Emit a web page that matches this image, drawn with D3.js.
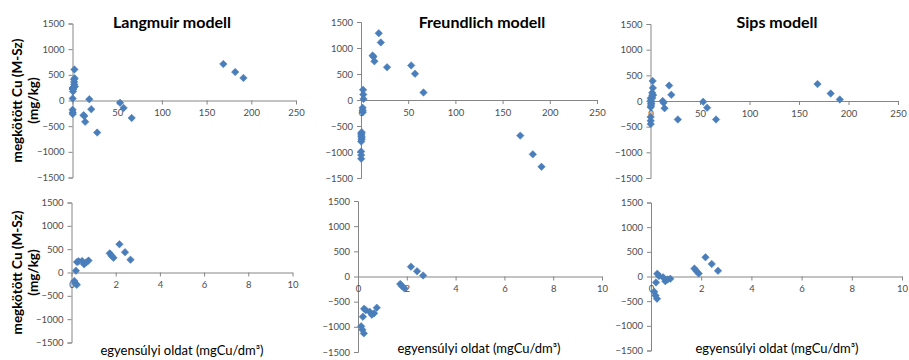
<!DOCTYPE html>
<html>
  <head>
    <meta charset="utf-8">
    <script src="https://d3js.org/d3.v7.min.js"></script>
    <title>Langmuir / Freundlich / Sips</title>
    <style>
      body { margin: 0px; background: #fff; }
      .tick text { font-family: Lato, 'Liberation Sans', sans-serif; font-size: 9.5px; fill: #4d4d4d; }
      .domain, .tick line { stroke: #868686; }
      .panel-title { font-family: Lato, sans-serif; font-weight: bold; font-size: 16px; fill: #000; }
      .y-title { font-family: Lato, sans-serif; font-weight: bold; font-size: 13.5px; fill: #000; }
      .x-title { font-family: Lato, sans-serif; font-size: 13px; fill: #000; }
    </style>
  </head>
  <body>
    <svg width="909" height="360"></svg>
    <script>
      // equilibrium concentration (mgCu/dm3), shared by all three models
      const xHigh = [12.3, 13.2, 14.2, 18.8, 21.0, 27.6, 53.2, 57.2, 66.2, 168.7, 182.0, 191.2];
      const xLow = [0.13, 0.18, 0.24, 0.2, 0.25, 0.32, 0.48, 0.57, 0.66, 0.77, 1.73, 1.81, 1.9, 2.17, 2.42, 2.67];

      // bound Cu deviation (mg/kg)
      const langmuirLow = [-180, -235, -265, 40, 225, 240, 245, 175, 215, 255, 410, 360, 315, 605, 435, 275];
      const langmuirHigh = [-285, -300, -415, 25, -170, -625, -45, -145, -340, 710, 555, 440];
      const freundlichLow = [-990, -1060, -1130, -800, -640, -670, -700, -760, -730, -620, -150, -195, -235, 195, 105, 20];
      const freundlichHigh = [855, 830, 745, 1285, 1108, 630, 665, 505, 145, -685, -1045, -1285];
      const sipsLow = [-310, -385, -450, -120, 55, 10, -15, -95, -60, -45, 160, 110, 60, 390, 255, 115];
      const sipsHigh = [0, -35, -140, 300, 120, -360, -15, -130, -360, 330, 145, 30];

      const titles = ['Langmuir modell', 'Freundlich modell', 'Sips modell'];
      const yTicks = [-1500, -1000, -500, 0, 500, 1000, 1500];
      const xTicksWide = [0, 50, 100, 150, 200, 250];
      const xTicksNarrow = [0, 2, 4, 6, 8, 10];
      const yLabel = ['megkötött Cu (M-Sz)', '(mg/kg)'];
      const xLabel = 'egyensúlyi oldat (mgCu/dm³)';

      const zip = (xs, ys) => xs.map((x, i) => ({ x: x, y: ys[i] }));

      const panels = [
        { x: [72.5, 296], y: [177.5, 23.5], xMax: 250, ticks: xTicksWide, title: titles[0], tx: 172,
          data: zip(xLow, langmuirLow).concat(zip(xHigh, langmuirHigh)) },
        { x: [361, 597], y: [178, 22], xMax: 250, ticks: xTicksWide, title: titles[1], tx: 482,
          data: zip(xLow, freundlichLow).concat(zip(xHigh, freundlichHigh)) },
        { x: [650.5, 898], y: [178, 24], xMax: 250, ticks: xTicksWide, title: titles[2], tx: 777,
          data: zip(xLow, sipsLow).concat(zip(xHigh, sipsHigh)) },
        { x: [71.5, 292.5], y: [342.5, 202.5], xMax: 10, ticks: xTicksNarrow, xt: 182,
          data: zip(xLow, langmuirLow) },
        { x: [358, 602], y: [352, 201], xMax: 10, ticks: xTicksNarrow, xt: 479,
          data: zip(xLow, freundlichLow) },
        { x: [651, 902], y: [350.5, 202.5], xMax: 10, ticks: xTicksNarrow, xt: 777,
          data: zip(xLow, sipsLow) }
      ];

      const svg = d3.select('svg');
      const diamond = d3.symbol().type(d3.symbolSquare).size(28);
      const fmt = d3.format('d');

      panels.forEach((p, i) => {
        const xScale = d3.scaleLinear().domain([0, p.xMax]).range(p.x);
        const yScale = d3.scaleLinear().domain([-1500, 1500]).range(p.y);
        const g = svg.append('g');

        const yAxis = d3.axisLeft(yScale).tickValues(yTicks).tickFormat(fmt)
            .tickSize(4).tickPadding(4);
        g.append('g')
            .attr('transform', `translate(${p.x[0]},0)`)
            .call(yAxis);

        const xAxis = d3.axisBottom(xScale).tickValues(p.ticks).tickFormat(fmt)
            .tickSize(4).tickPadding(5).tickSizeOuter(0);
        g.append('g')
            .attr('transform', `translate(0,${yScale(0)})`)
            .call(xAxis);

        g.selectAll('path.pt').data(p.data)
          .enter().append('path')
            .attr('class', 'pt')
            .attr('d', diamond)
            .attr('transform', d => `translate(${xScale(d.x)},${yScale(d.y)}) rotate(45)`)
            .attr('fill', '#4a7ebb')
            .attr('stroke', '#4a7ebb')
            .attr('stroke-width', 0.5);

        if (p.title) {
          g.append('text')
              .attr('class', 'panel-title')
              .attr('x', p.tx)
              .attr('y', 28)
              .attr('text-anchor', 'middle')
              .text(p.title);
        }
        if (p.xt) {
          g.append('text')
              .attr('class', 'x-title')
              .attr('x', p.xt)
              .attr('y', i === 3 ? 355 : 353)
              .attr('text-anchor', 'middle')
              .text(xLabel);
        }
        if (i === 0 || i === 3) {
          const cy = (p.y[0] + p.y[1]) / 2;
          [22, 38].forEach((lx, k) => {
            g.append('text')
                .attr('class', 'y-title')
                .attr('transform', `translate(${lx},${cy}) rotate(-90)`)
                .attr('text-anchor', 'middle')
                .text(yLabel[k]);
          });
        }
      });
    </script>
  </body>
</html>
